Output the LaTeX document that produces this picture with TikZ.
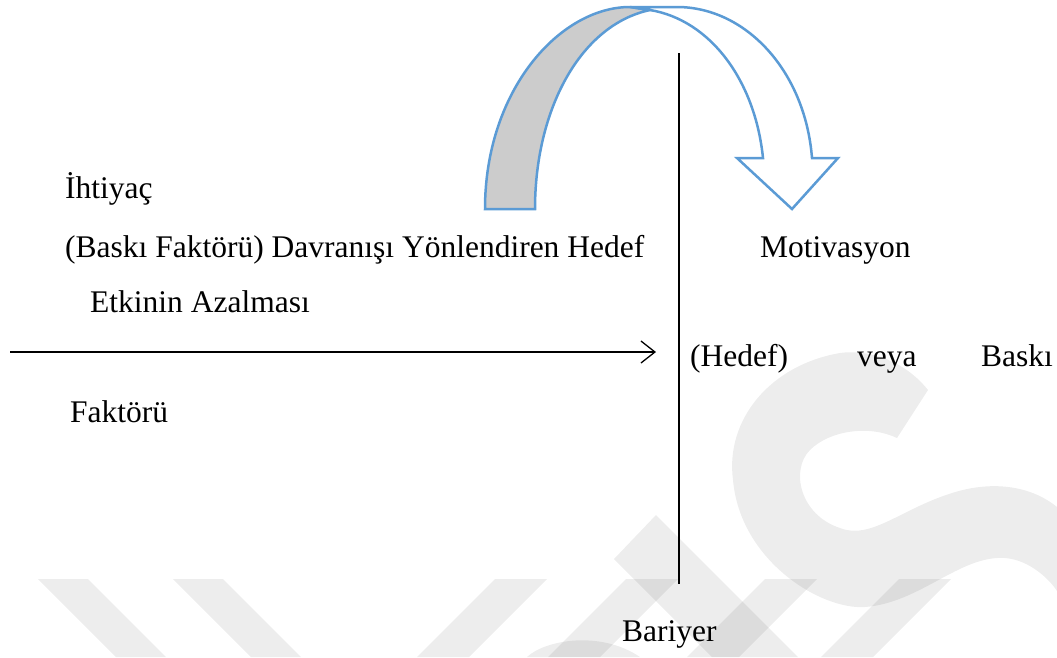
\documentclass[tikz,border=0pt]{standalone}
\usepackage{fontspec}
\setmainfont{Liberation Serif}
\usetikzlibrary{arrows.meta,positioning}
\definecolor{okmavi}{HTML}{5B9BD5}
\definecolor{okgri}{HTML}{CCCCCC}
\tikzset{
metin/.style={anchor=base west, inner sep=0pt, font=\fontsize{31.5}{38}\selectfont}, % plain text lines
filigran/.style={fill=black, fill opacity=0.07, draw=none}, % faint background marks
mavicizgi/.style={draw=okmavi, line width=2.5pt},
}

\begin{document}
\begin{tikzpicture}[x=1pt, y=-1pt]
  \useasboundingbox (0,0) rectangle (1057,657);
  % background marks
  \fill[filigran] (38,579) -- (88,579) -- (166,657) -- (116,657) -- cycle;
  \fill[filigran] (173,579) -- (223,579) -- (301,657) -- (251,657) -- cycle;
  \foreach \x in {495,626,765,899}
    \fill[filigran] (\x,579) -- (\x+52,579) -- (\x-26,657) -- (\x-78,657) -- cycle;
  \fill[filigran] (614,559) -- (656,515) -- (798,657) -- (712,657) -- cycle;
  \fill[filigran] (527,657) .. controls (545,640) and (600,630) .. (640,657) -- cycle;
  \fill[filigran] (928,390) .. controls (900,355) and (860,350) .. (840,353)
    .. controls (770,365) and (725,420) .. (733,480)
    .. controls (740,560) and (820,610) .. (865,607)
    .. controls (920,603) and (960,555) .. (1005,558)
    .. controls (1030,560) and (1050,580) .. (1057,591) -- (1057,507)
    .. controls (1030,485) and (990,480) .. (949,494)
    .. controls (900,510) and (870,540) .. (840,528)
    .. controls (800,515) and (790,470) .. (810,450)
    .. controls (830,430) and (870,425) .. (897,438) -- cycle;

  % curved arrow over the barrier
  \path[mavicizgi, fill=okgri] (485,209) .. controls (485,90) and (560,7) .. (630,7) -- (650,10)
    .. controls (580,25) and (535,110) .. (535,209) -- cycle;
  \path[mavicizgi, fill=white] (630,7) -- (677,7) .. controls (745,7) and (805,70) .. (812,158)
    -- (838,158) -- (792,209) -- (737,158) -- (763,158)
    .. controls (755,80) and (710,20) .. (650,10) -- cycle;

  % texts
  \node[metin] (ihtiyac) at (65,198) {İhtiyaç};
  \node[metin] (baski) at (65,257) {(Baskı Faktörü) Davranışı Yönlendiren Hedef};
  \node[metin] (etki) at (90,312) {Etkinin Azalması};
  \node[metin] (faktor) at (70,422) {Faktörü};
  \node[metin] (motiv) at (760,257) {Motivasyon};
  \node[metin] (hedef) at (690,366) {(Hedef)};
  \node[metin] (veya) at (857,366) {veya};
  \node[metin] (baskiiki) at (981,366) {Baskı};
  \node[metin] (bariyer) at (622,641) {Bariyer};

  % arrow and barrier
  \coordinate (okbas) at (10,352);
  \coordinate (okuc) at (656,352);
  \draw[-{Straight Barb[length=14pt,width=22pt]}, line width=1.3pt] (okbas) -- (okuc);
  \coordinate (bariyerust) at (679,53);
  \coordinate (bariyeralt) at (679,584);
  \draw[line width=1.8pt] (bariyerust) -- (bariyeralt);
\end{tikzpicture}
\end{document}
